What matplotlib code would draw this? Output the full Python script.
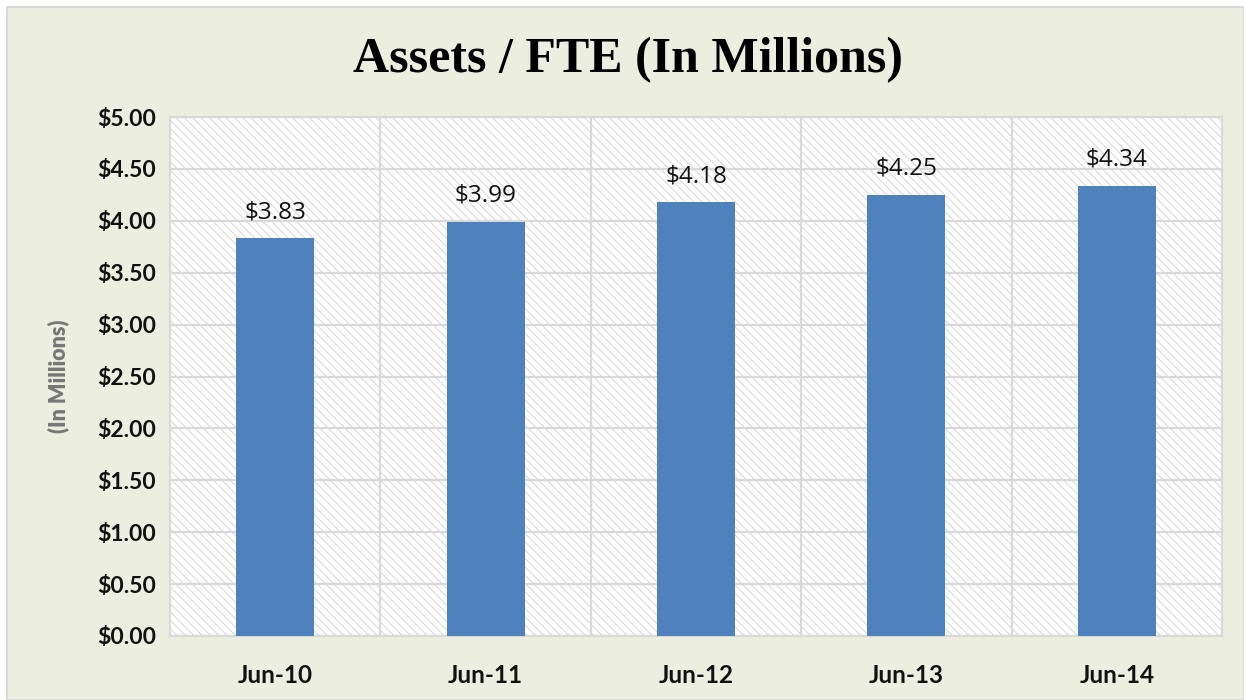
import matplotlib
matplotlib.use("Agg")
import matplotlib.pyplot as plt
from matplotlib.patches import Rectangle
from matplotlib.ticker import FuncFormatter, MultipleLocator

categories = ["Jun-10", "Jun-11", "Jun-12", "Jun-13", "Jun-14"]
values = [3.83, 3.99, 4.18, 4.25, 4.34]
title = "Assets / FTE (In Millions)"
ylabel = "(In Millions)"

BG = "#ECEFE0"
BAR = "#4F81BD"
GRID = "#D9D9D9"

plt.rcParams['hatch.linewidth'] = 0.7
plt.rcParams['hatch.color'] = "#D6D6D6"

fig = plt.figure(figsize=(12.44, 7.0), dpi=100)
fig.patch.set_facecolor("white")
# outer chart area with thin border
fig.patches.append(Rectangle((7/1244, 0), 1 - 7/1244, 1 - 7/700, transform=fig.transFigure,
                             facecolor=BG, edgecolor="#D6D6D6", linewidth=1.2, zorder=-10))

ax = fig.add_axes([170/1244, 1 - 636/700, (1222 - 170)/1244, (636 - 117)/700])
ax.set_facecolor("white")
ax.add_patch(Rectangle((0, 0), 1, 1, transform=ax.transAxes, facecolor="white",
                       edgecolor="#D6D6D6", hatch="\\\\\\\\", linewidth=0, zorder=0))

x = list(range(len(categories)))
ax.bar(x, values, width=0.37, color=BAR, zorder=3)
for xi, v in zip(x, values):
    ax.annotate(f"${v:.2f}", (xi, v), xytext=(0, 10), textcoords="offset points",
                ha="center", va="bottom", fontsize=17.5, family="Open Sans", color="#111111", zorder=4)

ax.set_xlim(-0.5, len(categories) - 0.5)
ax.set_ylim(0, 5)
ax.yaxis.set_major_locator(MultipleLocator(0.5))
ax.yaxis.set_major_formatter(FuncFormatter(lambda v, p: f"${v:.2f}"))
ax.set_xticks(x)
ax.set_xticklabels(categories)
ax.set_xticks([i + 0.5 for i in x[:-1]], minor=True)
ax.grid(True, which="major", axis="y", color=GRID, linewidth=1.6, zorder=1)
ax.grid(True, which="minor", axis="x", color=GRID, linewidth=1.6, zorder=1)
ax.set_axisbelow(True)
ax.tick_params(axis="both", which="both", length=0)
ax.tick_params(axis="y", pad=10)
ax.tick_params(axis="x", pad=20)
for lab in ax.get_yticklabels():
    lab.set_fontsize(16.5)
for lab in ax.get_xticklabels():
    lab.set_fontsize(17.5)
for lab in ax.get_yticklabels() + ax.get_xticklabels():
    lab.set_fontfamily("Lato")
    lab.set_fontweight("bold")
    lab.set_color("#111111")
for s in ax.spines.values():
    s.set_color(GRID)
    s.set_linewidth(1.6)

ax.set_ylabel(ylabel, fontsize=15.5, fontweight="heavy", family="Lato", color="#777777", labelpad=4)
ax.yaxis.set_label_coords(-101/1052, 0.5)
fig.text(628/1244, 1 - 60/700, title, ha="center", va="center", fontsize=36,
         fontweight="bold", family="Liberation Serif", color="black")

fig.savefig("out.png", dpi=100, facecolor=fig.get_facecolor())
